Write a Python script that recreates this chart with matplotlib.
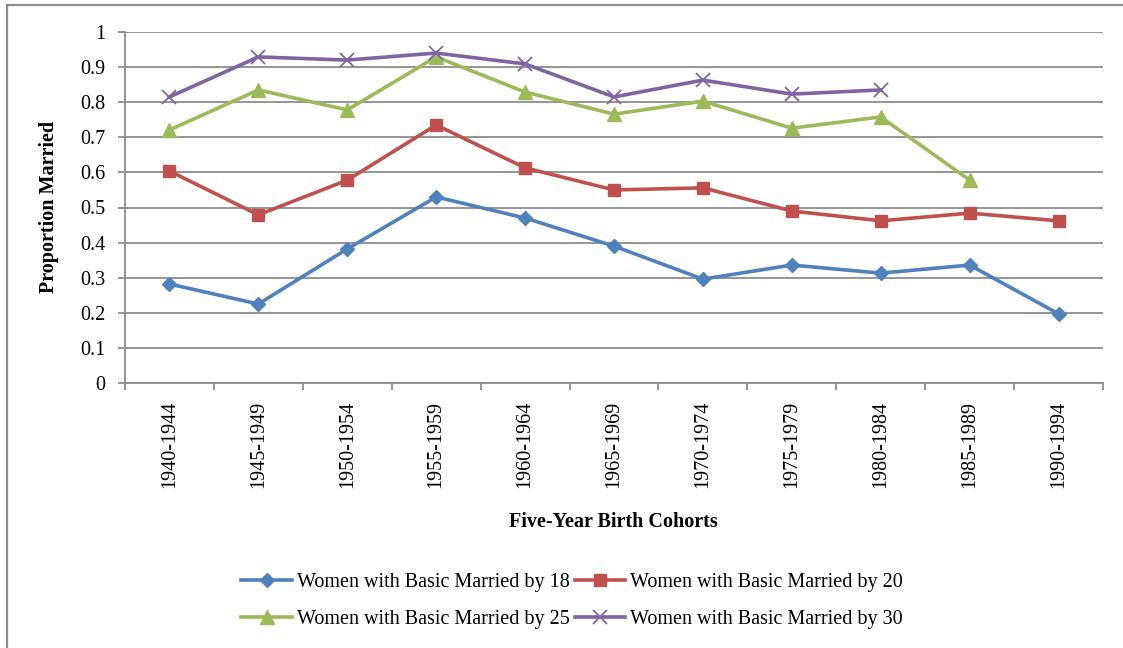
import matplotlib.pyplot as plt
from matplotlib.patches import Rectangle

cohorts = ["1940-1944", "1945-1949", "1950-1954", "1955-1959", "1960-1964",
           "1965-1969", "1970-1974", "1975-1979", "1980-1984", "1985-1989",
           "1990-1994"]

married_18 = [0.282, 0.225, 0.382, 0.530, 0.470, 0.390, 0.296, 0.336, 0.313, 0.336, 0.197]
married_20 = [0.604, 0.479, 0.578, 0.735, 0.613, 0.550, 0.556, 0.490, 0.462, 0.484, 0.462]
married_25 = [0.721, 0.835, 0.778, 0.929, 0.829, 0.766, 0.803, 0.726, 0.758, 0.578]
married_30 = [0.815, 0.929, 0.920, 0.940, 0.909, 0.815, 0.863, 0.823, 0.835]

labels = ["Women with Basic Married by 18", "Women with Basic Married by 20",
          "Women with Basic Married by 25", "Women with Basic Married by 30"]

plt.rcParams['font.family'] = ['Liberation Serif', 'DejaVu Serif']
fs = 14.5

fig = plt.figure(figsize=(11.23, 6.48), dpi=100)
ax = fig.add_axes([125 / 1123, 1 - 383 / 648, (1103 - 125) / 1123, (383 - 32) / 648])

# outer chart frame (Excel style)
fig.patches.append(Rectangle((7 / 1123, -0.1), 1.2, 1 - 5 / 648 + 0.1,
                             transform=fig.transFigure, fill=False,
                             edgecolor="#8c8c8c", linewidth=1.6))

x = list(range(len(cohorts)))
l18, = ax.plot(x[:len(married_18)], married_18, color="#4F81BD", lw=2.6, marker="D",
               markersize=7.5, label=labels[0])
l20, = ax.plot(x[:len(married_20)], married_20, color="#C0504D", lw=2.6, marker="s",
               markersize=9, label=labels[1])
l25, = ax.plot(x[:len(married_25)], married_25, color="#9BBB59", lw=2.6, marker="^",
               markersize=10, label=labels[2])
l30, = ax.plot(x[:len(married_30)], married_30, color="#8064A2", lw=2.6, marker="x",
               markersize=10, markeredgewidth=1.3, label=labels[3])

ax.set_xlim(-0.5, len(cohorts) - 0.5)
ax.set_ylim(0, 1)
ax.set_yticks([i / 10 for i in range(11)])
ax.set_yticklabels(["0", "0.1", "0.2", "0.3", "0.4", "0.5", "0.6", "0.7", "0.8", "0.9", "1"])
ax.yaxis.grid(True, color="#8c8c8c", lw=1.3)
ax.set_axisbelow(True)

ax.set_xticks(x)
ax.set_xticklabels(cohorts, rotation=90)
ax.set_xticks([i - 0.5 for i in range(len(cohorts) + 1)], minor=True)
ax.tick_params(axis="x", which="major", length=0, pad=13, labelsize=fs)
ax.tick_params(axis="x", which="minor", length=5, color="#8c8c8c", width=1.3)
ax.tick_params(axis="y", length=5, color="#8c8c8c", width=1.3, labelsize=fs, pad=9)

for s in ["top", "right"]:
    ax.spines[s].set_visible(False)
for s in ["left", "bottom"]:
    ax.spines[s].set_color("#8c8c8c")
    ax.spines[s].set_linewidth(1.3)

fig.text(49 / 1123, 1 - 207 / 648, "Proportion Married", fontsize=fs,
         fontweight="bold", rotation=90, ha="center", va="center")
fig.text(613 / 1123, 1 - 522 / 648, "Five-Year Birth Cohorts", fontsize=fs,
         fontweight="bold", ha="center", va="center")

# row-wise order: 18, 20 on first row, 25, 30 on second
fig.legend([l18, l25, l20, l30], [labels[0], labels[2], labels[1], labels[3]],
           loc="center", bbox_to_anchor=(572 / 1123, 1 - 601 / 648), ncol=2,
           frameon=False, fontsize=fs, handlelength=2.5, handletextpad=0.25,
           columnspacing=0.25, labelspacing=0.9)

fig.savefig("out.png", dpi=100)
